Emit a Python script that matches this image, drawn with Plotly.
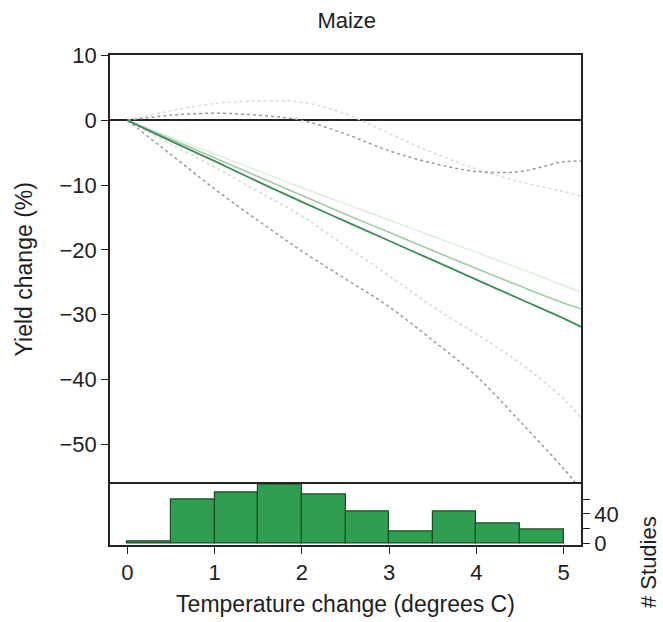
import plotly.graph_objects as go

# ---- data ----
temp = [0, 0.5, 1, 1.5, 2, 2.5, 3, 3.5, 4, 4.5, 5, 5.2]
central_dark = [0, -3.2, -6.3, -9.5, -12.6, -15.6, -18.6, -21.6, -24.6, -27.6, -30.6, -31.9]
central_light = [0, -2.9, -5.8, -8.7, -11.6, -14.5, -17.3, -20.1, -22.9, -25.6, -28.2, -29.1]
central_faint = [0, -2.6, -5.2, -7.8, -10.4, -12.9, -15.4, -17.9, -20.4, -22.9, -25.5, -26.5]
upper_dot = [0, 0.8, 1.1, 0.8, 0.0, -2.1, -4.7, -6.6, -7.9, -7.9, -6.4, -6.3]
upper_faint_dot = [0, 1.5, 2.6, 3.0, 2.8, 1.0, -2.0, -5.0, -7.5, -9.5, -11.0, -11.7]
lower_dot = [0, -5.3, -10.6, -15.5, -20.2, -24.5, -28.8, -34.0, -39.5, -46.5, -53.8, -57.0]
lower_faint_dot = [0, -3.7, -7.2, -11.0, -14.8, -19.4, -24.0, -28.8, -33.0, -37.5, -43.0, -46.0]

bin_left = [0, 0.5, 1, 1.5, 2, 2.5, 3, 3.5, 4, 4.5]
studies = [3, 60, 70, 80, 66, 43, 16, 43, 27, 19]

yticks = [10, 0, -10, -20, -30, -40, -50]
xticks = [0, 1, 2, 3, 4, 5]
hist_ticks = [0, 20, 40, 60]
hist_ticktext = ["0", "", "40", ""]

FONT = "Liberation Sans, Arial, sans-serif"
AX = "#222222"
TXT = "#1e1e1e"

fig = go.Figure()

def line(y, color, width, dash):
    fig.add_trace(go.Scatter(x=temp, y=y, mode="lines", xaxis="x", yaxis="y",
                             line=dict(color=color, width=width, dash=dash, shape="spline"),
                             showlegend=False, hoverinfo="skip"))

line(upper_faint_dot, "#dadada", 1.5, "dot")
line(lower_faint_dot, "#d3e3d3", 1.8, "dot")
line(central_faint, "#dcefdc", 1.5, "solid")
line(upper_dot, "#9a9a9a", 1.5, "dot")
line(lower_dot, "#9a9a9a", 1.5, "dot")
line(central_light, "#a3cba3", 1.6, "solid")
line(central_dark, "#3f8c5a", 1.8, "solid")

fig.add_trace(go.Bar(x=[b + 0.25 for b in bin_left], y=studies, width=0.5,
                     xaxis="x2", yaxis="y2",
                     marker=dict(color="#2f9e50", line=dict(color="#174d25", width=1.2)),
                     showlegend=False, hoverinfo="skip"))

split = (545 - 483.5) / 490

fig.update_layout(
    width=663, height=622,
    margin=dict(l=110, r=82, t=55, b=77, autoexpand=False),
    plot_bgcolor="white", paper_bgcolor="white",
    font=dict(family=FONT, size=22, color=TXT),
    title=dict(text="Maize", x=0.523, xanchor="center", y=0.968, yanchor="middle",
               font=dict(size=22, family=FONT, color=TXT)),
    xaxis=dict(domain=[0, 1], range=[-0.2, 5.2], anchor="y", side="top", automargin=False,
               showticklabels=False, ticks="", showgrid=False, zeroline=False,
               showline=True, linecolor=AX, linewidth=1.5, mirror=False),
    yaxis=dict(domain=[split, 1], range=[-56.1, 10.1], anchor="x", automargin=False,
               tickvals=yticks, ticktext=[str(v).replace("-", "\u2212") for v in yticks],
               ticks="outside", ticklen=7, tickwidth=1.3, tickcolor=AX,
               tickfont=dict(size=22),
               showgrid=False, zeroline=True, zerolinecolor=AX, zerolinewidth=1.5,
               showline=True, linecolor=AX, linewidth=1.5, mirror=True,
               title=dict(text="Yield change (%)", standoff=20, font=dict(size=23))),
    xaxis2=dict(domain=[0, 1], range=[-0.2, 5.2], anchor="y2", automargin=False,
                tickvals=xticks, ticks="outside", ticklen=7, tickwidth=1.3, tickcolor=AX,
                tickfont=dict(size=22),
                showgrid=False, zeroline=False,
                showline=True, linecolor=AX, linewidth=1.5, mirror=True,
                title=dict(text="Temperature change (degrees C)", standoff=12, font=dict(size=23))),
    yaxis2=dict(domain=[0, split], range=[-2.3, 81.6], anchor="x2", side="right", automargin=False,
                tickvals=hist_ticks, ticktext=hist_ticktext,
                ticks="outside", ticklen=7, tickwidth=1.3, tickcolor=AX,
                tickfont=dict(size=22),
                showgrid=False, zeroline=False,
                showline=True, linecolor=AX, linewidth=1.5, mirror=True),
    annotations=[dict(text="# Studies", textangle=-90, xref="paper", yref="paper",
                      x=(648 - 110) / 471, y=(545 - 562) / 490, xanchor="center", yanchor="middle",
                      showarrow=False, font=dict(size=22, family=FONT, color=TXT))],
    bargap=0,
)

fig.write_html("out.html")
